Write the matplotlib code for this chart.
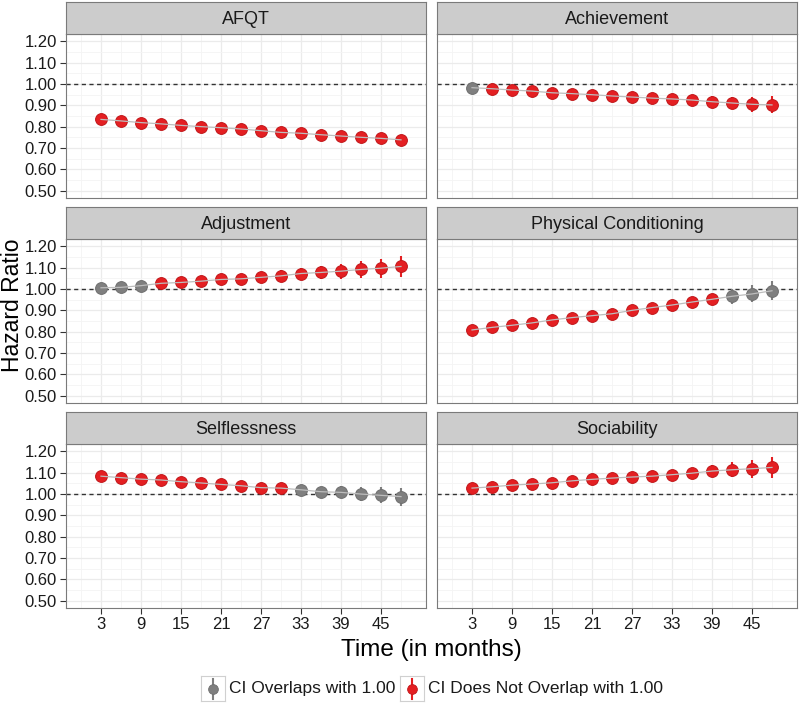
import matplotlib.pyplot as plt
from matplotlib.lines import Line2D

plt.rcParams['font.family'] = ['Liberation Sans', 'DejaVu Sans']

# months (x) shared by all panels
months = [3, 6, 9, 12, 15, 18, 21, 24, 27, 30, 33, 36, 39, 42, 45, 48]
x_ticks = [3, 9, 15, 21, 27, 33, 39, 45]
y_ticks = [0.50, 0.60, 0.70, 0.80, 0.90, 1.00, 1.10, 1.20]

panels = ['AFQT', 'Achievement', 'Adjustment', 'Physical Conditioning',
          'Selflessness', 'Sociability']

# hazard ratios
hr_afqt = [0.834, 0.827, 0.819, 0.813, 0.806, 0.800, 0.795, 0.789,
           0.781, 0.773, 0.769, 0.762, 0.756, 0.750, 0.745, 0.738]
hr_achievement = [0.983, 0.978, 0.972, 0.967, 0.959, 0.955, 0.950, 0.944,
                  0.939, 0.934, 0.930, 0.925, 0.917, 0.911, 0.905, 0.902]
hr_adjustment = [1.006, 1.008, 1.016, 1.027, 1.031, 1.037, 1.045, 1.048,
                 1.055, 1.062, 1.073, 1.078, 1.084, 1.092, 1.098, 1.106]
hr_physical = [0.808, 0.820, 0.830, 0.841, 0.855, 0.866, 0.875, 0.884,
               0.900, 0.913, 0.925, 0.939, 0.952, 0.966, 0.977, 0.992]
hr_selfless = [1.084, 1.077, 1.070, 1.066, 1.058, 1.052, 1.045, 1.039,
               1.030, 1.028, 1.020, 1.011, 1.008, 1.000, 0.994, 0.988]
hr_social = [1.028, 1.034, 1.042, 1.047, 1.053, 1.062, 1.069, 1.075,
             1.080, 1.084, 1.091, 1.098, 1.108, 1.114, 1.119, 1.125]

# half width of the confidence intervals
ci_afqt = [0.005, 0.005, 0.006, 0.006, 0.007, 0.007, 0.008, 0.008,
           0.009, 0.010, 0.011, 0.012, 0.013, 0.014, 0.016, 0.018]
ci_achievement = [0.018, 0.008, 0.009, 0.010, 0.011, 0.012, 0.013, 0.014,
                  0.016, 0.018, 0.020, 0.022, 0.025, 0.029, 0.034, 0.040]
ci_adjustment = [0.012, 0.014, 0.017, 0.018, 0.019, 0.020, 0.021, 0.022,
                 0.024, 0.026, 0.028, 0.031, 0.035, 0.040, 0.045, 0.050]
ci_physical = [0.010, 0.010, 0.011, 0.011, 0.012, 0.013, 0.014, 0.015,
               0.016, 0.018, 0.020, 0.023, 0.027, 0.036, 0.040, 0.045]
ci_selfless = [0.008, 0.008, 0.009, 0.009, 0.010, 0.011, 0.012, 0.013,
               0.015, 0.017, 0.021, 0.024, 0.028, 0.032, 0.037, 0.042]
ci_social = [0.008, 0.008, 0.009, 0.010, 0.011, 0.012, 0.013, 0.014,
             0.016, 0.018, 0.021, 0.025, 0.030, 0.035, 0.042, 0.050]

# 1 = CI overlaps with 1.00 (grey), 0 = does not (red)
ov_afqt = [0] * 16
ov_achievement = [1] + [0] * 15
ov_adjustment = [1, 1, 1] + [0] * 13
ov_physical = [0] * 13 + [1, 1, 1]
ov_selfless = [0] * 10 + [1] * 6
ov_social = [0] * 16

hr_all = [hr_afqt, hr_achievement, hr_adjustment, hr_physical, hr_selfless, hr_social]
ci_all = [ci_afqt, ci_achievement, ci_adjustment, ci_physical, ci_selfless, ci_social]
ov_all = [ov_afqt, ov_achievement, ov_adjustment, ov_physical, ov_selfless, ov_social]

RED = '#E41F22'
RED_EDGE = '#C01518'
GREY = '#7F7F7F'
BORDER = '#7A7A7A'
W, H = 800, 705

fig = plt.figure(figsize=(8, 7.05), dpi=100)
fig.patch.set_facecolor('white')

col_left = [66, 437]
panel_w = 360
row_top = [34, 239, 444]
panel_h = 164
strip_h = 32


def fig_rect(left, top, width, height):
    return [left / W, 1 - (top + height) / H, width / W, height / H]


for i, name in enumerate(panels):
    r, c = divmod(i, 2)
    ax = fig.add_axes(fig_rect(col_left[c], row_top[r], panel_w, panel_h))
    sax = fig.add_axes(fig_rect(col_left[c], row_top[r] - strip_h, panel_w, strip_h))

    # strip
    sax.set_facecolor('#CCCCCC')
    sax.set_xticks([])
    sax.set_yticks([])
    for s in sax.spines.values():
        s.set_color(BORDER)
        s.set_linewidth(0.8)
    sax.text(0.5, 0.45, name, ha='center', va='center', fontsize=13,
             color='#1A1A1A', transform=sax.transAxes)

    # panel
    ax.set_xlim(-2.25, 51.75)
    ax.set_ylim(0.465, 1.235)
    ax.set_xticks(x_ticks)
    ax.set_xticks([0, 6, 12, 18, 24, 30, 36, 42, 48], minor=True)
    ax.set_yticks(y_ticks)
    ax.set_yticks([0.55, 0.65, 0.75, 0.85, 0.95, 1.05, 1.15], minor=True)
    ax.set_yticklabels([f'{v:.2f}' for v in y_ticks])
    ax.grid(which='major', color='#EBEBEB', lw=0.9)
    ax.grid(which='minor', color='#F4F4F4', lw=0.6)
    ax.set_axisbelow(True)
    for s in ax.spines.values():
        s.set_color(BORDER)
        s.set_linewidth(0.8)
    ax.tick_params(which='minor', length=0)
    ax.tick_params(which='major', length=4, color='#333333', labelsize=12,
                   labelcolor='#1A1A1A', width=0.8, pad=2.5)
    if c == 1:
        ax.tick_params(axis='y', length=0, labelleft=False)
    if r < 2:
        ax.tick_params(axis='x', length=0, labelbottom=False)

    ax.axhline(1.0, color='#333333', lw=1.0, ls=(0, (3, 2.5)), zorder=2)

    hr = hr_all[i]
    ci = ci_all[i]
    ov = ov_all[i]
    for flag, col, edge in [(1, GREY, '#6E6E6E'), (0, RED, RED_EDGE)]:
        xs = [m for m, o in zip(months, ov) if o == flag]
        ys = [h for h, o in zip(hr, ov) if o == flag]
        es = [e for e, o in zip(ci, ov) if o == flag]
        if not xs:
            continue
        ax.errorbar(xs, ys, yerr=es, fmt='none', ecolor=col, elinewidth=1.5,
                    capsize=0, zorder=3)
        ax.plot(xs, ys, 'o', ms=8.5, color=col, mec=edge, mew=0.7,
                linestyle='None', zorder=4)
    ax.plot(months, hr, color='#BDBDBD', lw=0.9, zorder=5)

# axis titles
fig.text(13 / W, 1 - 305 / H, 'Hazard Ratio', rotation=90, ha='center',
         va='center', fontsize=16.5, color='black')
fig.text(431 / W, 1 - 650 / H, 'Time (in months)', ha='center', va='center',
         fontsize=17.5, color='black')

# legend with boxed keys
legend_items = [('CI Overlaps with 1.00', GREY, '#6E6E6E', 201),
                ('CI Does Not Overlap with 1.00', RED, RED_EDGE, 400)]
for label, col, edge, kx in legend_items:
    kax = fig.add_axes(fig_rect(kx, 676, 24, 25))
    kax.set_xlim(0, 1)
    kax.set_ylim(0, 1)
    kax.set_xticks([])
    kax.set_yticks([])
    for s in kax.spines.values():
        s.set_color('#D0D0D0')
        s.set_linewidth(0.8)
    kax.add_line(Line2D([0.5, 0.5], [0.1, 0.9], color=col, lw=1.5))
    kax.add_line(Line2D([0.5], [0.5], marker='o', ms=7, color=col, mec=edge,
                        mew=0.6, linestyle='None'))
    fig.text((kx + 28) / W, 1 - 688 / H, label, ha='left', va='center',
             fontsize=12.5, color='#1A1A1A')

fig.savefig('out.png', dpi=100)
